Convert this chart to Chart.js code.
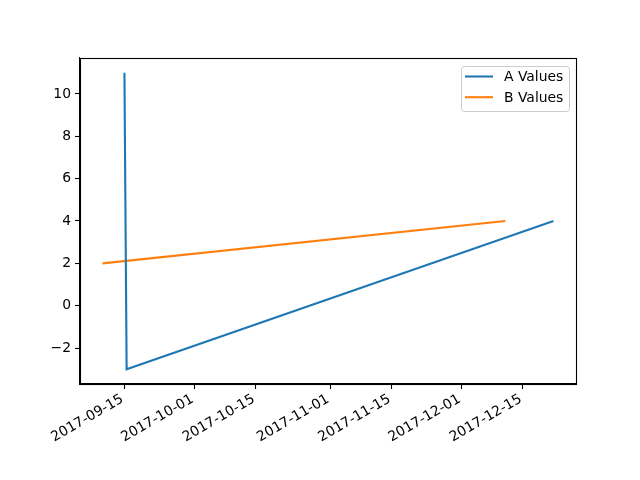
<!DOCTYPE html>
<html>
<head>
<meta charset="utf-8">
<script src="https://cdn.jsdelivr.net/npm/chart.js@4.4.1/dist/chart.umd.min.js"></script>
<style>
  body { margin: 0; background: #fff; }
</style>
</head>
<body>
<canvas id="myChart" width="640" height="480"></canvas>
<script>
'use strict';

// series data (dates)
let aDates = ['2017-09-15T00:00', '2017-09-15T12:00', '2017-12-22T00:00'];
let aValues = [11, -3, 4];
let bDates = ['2017-09-10T00:00', '2017-12-11T00:00'];
let bValues = [2, 4];

let xTickLabels = ['2017-09-15', '2017-10-01', '2017-10-15', '2017-11-01', '2017-11-15', '2017-12-01', '2017-12-15'];
let yTicks = [-2, 0, 2, 4, 6, 8, 10];

const DAY = 86400000;
const base = Date.parse( '2017-09-15T00:00:00Z' );

function toDay( s ) {
  return ( Date.parse( s + ( s.length > 10 ? ':00Z' : 'T00:00:00Z' ) ) - base ) / DAY;
}

function points( dates, values ) {
  let out = [];
  for ( let i = 0; i < dates.length; i++ ) {
    out.push( { x: toDay( dates[i] ), y: values[i] } );
  }
  return out;
}

// matplotlib-like 5% margins
let allX = aDates.concat( bDates ).map( toDay );
let allY = aValues.concat( bValues );
let xMin = Math.min( ...allX ), xMax = Math.max( ...allX );
let yMin = Math.min( ...allY ), yMax = Math.max( ...allY );
let xPad = ( xMax - xMin ) * 0.05;
let yPad = ( yMax - yMin ) * 0.05;

const FONT = { family: 'DejaVu Sans', size: 13.9 };

const frameLegend = {
  id: 'frameLegend',
  afterDraw( chart ) {
    const ctx = chart.ctx;
    const a = chart.chartArea;
    ctx.save();
    ctx.strokeStyle = '#000';
    ctx.lineWidth = 1.1;
    ctx.strokeRect( Math.round( a.left ) + 0.5, Math.round( a.top ) + 0.5, Math.round( a.right - a.left ), Math.round( a.bottom - a.top ) );

    // legend box, upper right
    let w = 108, h = 45;
    let x = a.right - 7 - w, y = a.top + 8;
    ctx.beginPath();
    ctx.roundRect( x + 0.5, y + 0.5, w, h, 3 );
    ctx.fillStyle = 'rgba(255,255,255,0.8)';
    ctx.fill();
    ctx.strokeStyle = '#cccccc';
    ctx.lineWidth = 1;
    ctx.stroke();

    ctx.font = FONT.size + 'px "DejaVu Sans"';
    ctx.textBaseline = 'middle';
    ctx.textAlign = 'left';
    chart.data.datasets.forEach( function( ds, i ) {
      let ly = y + 10.5 + i * 20.7;
      ctx.beginPath();
      ctx.moveTo( x + 4, ly );
      ctx.lineTo( x + 32, ly );
      ctx.strokeStyle = ds.borderColor;
      ctx.lineWidth = 2.1;
      ctx.stroke();
      ctx.fillStyle = '#000';
      ctx.fillText( ds.label, x + 43, ly + 1 );
    } );
    ctx.restore();
  }
};

let ctx = document.getElementById( 'myChart' ).getContext( '2d' );
let myChart = new Chart( ctx, {
  type: 'line',
  data: {
    datasets: [{
      label: 'A Values',
      data: points( aDates, aValues ),
      borderColor: '#1f77b4',
      borderWidth: 2.1,
      pointRadius: 0,
      fill: false,
      tension: 0
    }, {
      label: 'B Values',
      data: points( bDates, bValues ),
      borderColor: '#ff7f0e',
      borderWidth: 2.1,
      pointRadius: 0,
      fill: false,
      tension: 0
    }]
  },
  options: {
    responsive: false,
    animation: false,
    layout: { padding: { top: 58, right: 64, left: 0, bottom: 0 } },
    plugins: {
      legend: { display: false },
      tooltip: { enabled: false }
    },
    scales: {
      x: {
        type: 'linear',
        min: xMin - xPad,
        max: xMax + xPad,
        afterBuildTicks: function( scale ) {
          scale.ticks = xTickLabels.map( function( t ) { return { value: toDay( t ) }; } );
        },
        afterFit: function( scale ) { scale.height = 96; },
        grid: { drawOnChartArea: false, drawTicks: true, tickLength: 5, tickColor: '#000', tickWidth: 1.1 },
        border: { display: true, color: '#000', width: 1.1 },
        ticks: {
          font: FONT,
          color: '#000',
          padding: 2,
          labelOffset: -2,
          minRotation: 30,
          maxRotation: 30,
          autoSkip: false,
          callback: function( value, index ) { return xTickLabels[index]; }
        }
      },
      y: {
        min: yMin - yPad,
        max: yMax + yPad,
        afterBuildTicks: function( scale ) {
          scale.ticks = yTicks.map( function( v ) { return { value: v }; } );
        },
        afterFit: function( scale ) { scale.width = 80; },
        grid: { drawOnChartArea: false, drawTicks: true, tickLength: 5, tickColor: '#000', tickWidth: 1.1 },
        border: { display: true, color: '#000', width: 1.1 },
        ticks: {
          font: FONT,
          color: '#000',
          padding: 4,
          callback: function( value ) { return value < 0 ? '\u2212' + Math.abs( value ) : String( value ); }
        }
      }
    }
  },
  plugins: [frameLegend]
} );
</script>
</body>
</html>
